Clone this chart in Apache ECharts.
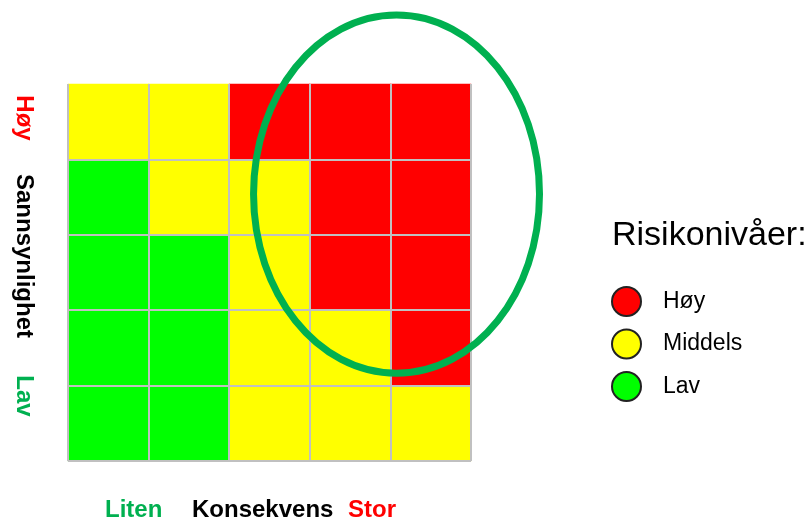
<!DOCTYPE html>
<html><head><meta charset="utf-8">
<script src="https://cdn.jsdelivr.net/npm/echarts@6/dist/echarts.min.js"></script>
<style>html,body{margin:0;padding:0;background:#fff}#c{width:810px;height:520px}</style>
</head><body><div id="c"></div>
<script>
// Consequence (x, left→right) and likelihood (y, bottom→top) categories
const consequence = ['1', '2', '3', '4', '5'];
const likelihood = ['1', '2', '3', '4', '5'];
// Risk level per cell, one array per likelihood row (bottom row first): 1 = Lav, 2 = Middels, 3 = Høy
const rowLav = [1, 1, 2, 2, 2];
const row2 = [1, 1, 2, 2, 3];
const row3 = [1, 1, 2, 3, 3];
const row4 = [1, 2, 2, 3, 3];
const rowHoy = [2, 2, 3, 3, 3];
const rows = [rowLav, row2, row3, row4, rowHoy];
// Legend levels
const levelNames = ['Høy', 'Middels', 'Lav'];
const levelValues = [3, 2, 1];
const levelColors = ['#ff0000', '#ffff00', '#00ff00'];
// Texts
const titleText = 'Risikonivåer:';
const yTexts = ['Høy', 'Sannsynlighet', 'Lav'];
const xTexts = ['Liten', 'Konsekvens', 'Stor'];

const FONT = '"Liberation Sans", Arial, sans-serif';
const data = [];
rows.forEach((r, yi) => r.forEach((v, xi) => data.push([xi, yi, v])));

const chart = echarts.init(document.getElementById('c'), null, {renderer: 'canvas'});
const axisCommon = {
  type: 'category',
  axisLine: {show: false},
  axisTick: {show: false},
  axisLabel: {show: false},
  z: 10
};
chart.setOption({
  animation: false,
  backgroundColor: '#ffffff',
  title: {
    text: titleText, left: 607, top: 214,
    textStyle: {fontFamily: FONT, fontSize: 34, fontWeight: 'normal', color: '#000'}
  },
  grid: {left: 68, right: 339, top: 84, bottom: 59},
  xAxis: Object.assign({}, axisCommon, {
    data: consequence,
    splitLine: {show: true, lineStyle: {color: '#c0c0c0', width: 2}}
  }),
  yAxis: Object.assign({}, axisCommon, {
    data: likelihood,
    splitLine: {show: true, showMaxLine: false, lineStyle: {color: '#c0c0c0', width: 2}}
  }),
  visualMap: {
    show: false, type: 'piecewise', dimension: 2, seriesIndex: 0,
    pieces: levelValues.map((v, i) => ({value: v, color: levelColors[i]}))
  },
  legend: {
    data: levelNames, orient: 'vertical', left: 606, top: 281,
    itemWidth: 29, itemHeight: 29, itemGap: 11.5, icon: 'circle', selectedMode: false,
    textStyle: {fontFamily: FONT, fontSize: 23, color: '#000', padding: [9, 0, 0, 17]}
  },
  series: [
    {
      type: 'heatmap', data: data, z: 2,
      itemStyle: {borderWidth: 0},
      emphasis: {disabled: true}
    }
  ].concat(levelNames.map((n, i) => ({
    type: 'scatter', name: n, data: [],
    itemStyle: {color: levelColors[i], borderColor: '#222', borderWidth: 1.5, opacity: 1}
  })))
});

// Annotation ellipse placed in cell units through the axes
const p00 = chart.convertToPixel({seriesIndex: 0}, [0, 0]);
const p11 = chart.convertToPixel({seriesIndex: 0}, [1, 1]);
const cw = p11[0] - p00[0];
const ch = p00[1] - p11[1];
const ell = {cx: 3.576, cy: 3.04, rx: 1.774, ry: 2.375};

const yPos = [118, 256, 396];
const yColors = ['#ff0000', '#000000', '#00b050'];
const xPos = [105, 192, 348];
const xColors = ['#00b050', '#000000', '#ff0000'];

const graphics = [{
  type: 'ellipse', z: 100,
  shape: {cx: p00[0] + ell.cx * cw, cy: p00[1] - ell.cy * ch, rx: ell.rx * cw, ry: ell.ry * ch},
  style: {fill: null, stroke: '#00b050', lineWidth: 7}
}];
yTexts.forEach((t, i) => graphics.push({
  type: 'text', x: 24, y: yPos[i], rotation: -Math.PI / 2, z: 100,
  style: {text: t, fill: yColors[i], font: 'bold 24px ' + FONT, align: 'center', verticalAlign: 'middle'}
}));
xTexts.forEach((t, i) => graphics.push({
  type: 'text', x: xPos[i], y: 510, z: 100,
  style: {text: t, fill: xColors[i], font: 'bold 24px ' + FONT, align: 'left', verticalAlign: 'middle'}
}));
chart.setOption({graphic: graphics});
</script>
</body></html>
